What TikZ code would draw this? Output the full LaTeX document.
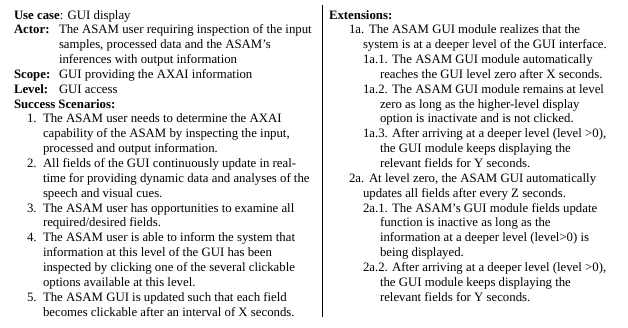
\documentclass[tikz,border=0pt]{standalone}
\usepackage{fontspec}
\setmainfont{Liberation Serif}
\tikzset{
  txt/.style={anchor=base west, inner sep=0pt, outer sep=0pt,
    font=\fontsize{12.8}{15}\selectfont},
  divider/.style={draw=black, line width=0.9pt}
}
% one text line: name, x, line index, text
\newcommand\tline[4]{\node[txt] (#1) at (#2,{19+14.85*#3}) {#4};}
\begin{document}
\begin{tikzpicture}[x=1pt,y=-1pt]
\useasboundingbox (0,0) rectangle (628,327);

% left column
\tline{uc}{14}{0}{\textbf{Use case}: GUI display}
\tline{actL}{14}{1}{\textbf{Actor:}}
\tline{act1}{59}{1}{The ASAM user requiring inspection of the input}
\tline{act2}{59}{2}{samples, processed data and the ASAM’s}
\tline{act3}{59}{3}{inferences with output information}
\tline{scL}{14}{4}{\textbf{Scope:}}
\tline{sc1}{59}{4}{GUI providing the AXAI information}
\tline{lvL}{14}{5}{\textbf{Level:}}
\tline{lv1}{59}{5}{GUI access}
\tline{ssL}{14}{6}{\textbf{Success Scenarios:}}
\tline{sA}{27}{7}{1.}
\tline{sA1}{43}{7}{The ASAM user needs to determine the AXAI}
\tline{sA2}{43}{8}{capability of the ASAM by inspecting the input,}
\tline{sA3}{43}{9}{processed and output information.}
\tline{sB}{27}{10}{2.}
\tline{sB1}{43}{10}{All fields of the GUI continuously update in real-}
\tline{sB2}{43}{11}{time for providing dynamic data and analyses of the}
\tline{sB3}{43}{12}{speech and visual cues.}
\tline{sC}{27}{13}{3.}
\tline{sC1}{43}{13}{The ASAM user has opportunities to examine all}
\tline{sC2}{43}{14}{required/desired fields.}
\tline{sD}{27}{15}{4.}
\tline{sD1}{43}{15}{The ASAM user is able to inform the system that}
\tline{sD2}{43}{16}{information at this level of the GUI has been}
\tline{sD3}{43}{17}{inspected by clicking one of the several clickable}
\tline{sD4}{43}{18}{options available at this level.}
\tline{sE}{27}{19}{5.}
\tline{sE1}{43}{19}{The ASAM GUI is updated such that each field}
\tline{sE2}{43}{20}{becomes clickable after an interval of X seconds.}

% column divider
\coordinate (divtop) at (322.5,5);
\coordinate (divbot) at (322.5,317);
\draw[divider] (divtop) -- (divbot);

% right column
\tline{ext}{329}{0}{\textbf{Extensions:}}
\tline{eA}{349}{1}{1a.}
\tline{eA1}{369}{1}{The ASAM GUI module realizes that the}
\tline{eA2}{363}{2}{system is at a deeper level of the GUI interface.}
\tline{eA11}{363}{3}{1a.1. The ASAM GUI module automatically}
\tline{eA12}{380}{4}{reaches the GUI level zero after X seconds.}
\tline{eA21}{363}{5}{1a.2. The ASAM GUI module remains at level}
\tline{eA22}{380}{6}{zero as long as the higher-level display}
\tline{eA23}{380}{7}{option is inactivate and is not clicked.}
\tline{eA31}{363}{8}{1a.3. After arriving at a deeper level (level >0),}
\tline{eA32}{380}{9}{the GUI module keeps displaying the}
\tline{eA33}{380}{10}{relevant fields for Y seconds.}
\tline{eB}{349}{11}{2a.}
\tline{eB1}{369}{11}{At level zero, the ASAM GUI automatically}
\tline{eB2}{363}{12}{updates all fields after every Z seconds.}
\tline{eB11}{363}{13}{2a.1. The ASAM’s GUI module fields update}
\tline{eB12}{380}{14}{function is inactive as long as the}
\tline{eB13}{380}{15}{information at a deeper level (level>0) is}
\tline{eB14}{380}{16}{being displayed.}
\tline{eB21}{363}{17}{2a.2. After arriving at a deeper level (level >0),}
\tline{eB22}{380}{18}{the GUI module keeps displaying the}
\tline{eB23}{380}{19}{relevant fields for Y seconds.}
\end{tikzpicture}
\end{document}
